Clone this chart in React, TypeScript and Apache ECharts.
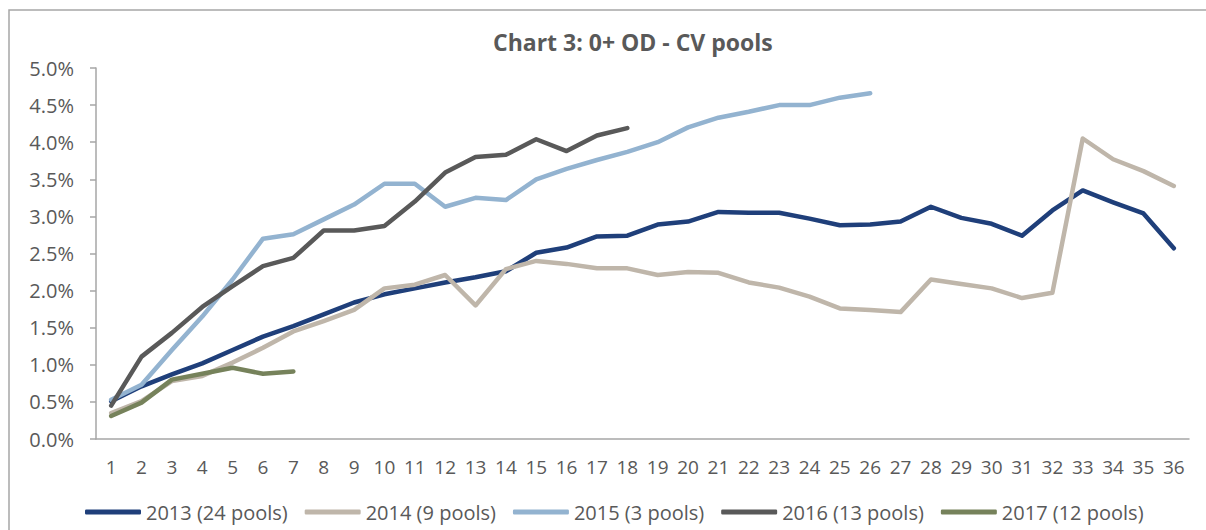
import React, { useEffect, useRef } from "react";
import * as echarts from "echarts";

const categories = Array.from({ length: 36 }, (_, i) => String(i + 1));

const s2013 = [0.51, 0.71, 0.87, 1.02, 1.2, 1.38, 1.52, 1.68, 1.84, 1.95, 2.03, 2.11, 2.18, 2.26, 2.51, 2.58, 2.73, 2.74, 2.89, 2.93, 3.06, 3.05, 3.05, 2.97, 2.88, 2.89, 2.93, 3.13, 2.98, 2.9, 2.74, 3.08, 3.35, 3.19, 3.04, 2.57];
const s2014 = [0.35, 0.51, 0.78, 0.85, 1.03, 1.23, 1.45, 1.59, 1.74, 2.03, 2.08, 2.21, 1.8, 2.29, 2.4, 2.36, 2.3, 2.3, 2.21, 2.25, 2.24, 2.11, 2.04, 1.92, 1.76, 1.74, 1.71, 2.15, 2.09, 2.03, 1.9, 1.97, 4.05, 3.77, 3.61, 3.41];
const s2015 = [0.53, 0.73, 1.2, 1.65, 2.15, 2.7, 2.76, 2.96, 3.16, 3.44, 3.44, 3.13, 3.25, 3.22, 3.5, 3.64, 3.76, 3.87, 4.0, 4.2, 4.33, 4.41, 4.5, 4.5, 4.6, 4.66];
const s2016 = [0.45, 1.11, 1.43, 1.78, 2.06, 2.33, 2.44, 2.81, 2.81, 2.87, 3.2, 3.59, 3.8, 3.83, 4.04, 3.88, 4.09, 4.19];
const s2017 = [0.31, 0.49, 0.8, 0.88, 0.96, 0.88, 0.91];

const seriesNames = ["2013 (24 pools)", "2014 (9 pools)", "2015 (3 pools)", "2016 (13 pools)", "2017 (12 pools)"];
const seriesData = [s2013, s2014, s2015, s2016, s2017];
const colors = ["#1f3f7a", "#bfb6aa", "#93b3d0", "#595959", "#76825b"];

const yTicks = [0, 0.5, 1, 1.5, 2, 2.5, 3, 3.5, 4, 4.5, 5];

export default function App() {
  const ref = useRef<HTMLDivElement>(null);
  useEffect(() => {
    if (!ref.current) return;
    const chart = echarts.init(ref.current, undefined, { renderer: "svg" });
    const font = "'Open Sans', 'Noto Sans', sans-serif";
    chart.setOption({
      animation: false,
      backgroundColor: "#ffffff",
      title: {
        text: "Chart 3: 0+ OD - CV pools",
        left: 488,
        top: 25,
        textStyle: { fontFamily: font, fontSize: 23, fontWeight: "bold", color: "#595959" },
      },
      graphic: [
        {
          type: "rect",
          shape: { x: 9, y: 10, width: 1400, height: 800 },
          style: { fill: "none", stroke: "#a6a6a6", lineWidth: 1.5 },
          silent: true,
        },
      ],
      grid: { left: 96, right: 17, top: 68, bottom: 91, containLabel: false },
      legend: {
        data: seriesNames,
        left: 80,
        top: 497,
        itemWidth: 56,
        itemHeight: 5,
        itemGap: 17,
        icon: "roundRect",
        textStyle: { fontFamily: font, fontSize: 20, color: "#595959" },
      },
      xAxis: {
        type: "category",
        data: categories,
        boundaryGap: true,
        axisLine: { lineStyle: { color: "#a6a6a6", width: 1.5 } },
        axisTick: { inside: true, length: 6, lineStyle: { color: "#a6a6a6", width: 1.5 } },
        axisLabel: { fontFamily: font, fontSize: 19, color: "#595959", margin: 18, interval: 0 },
      },
      yAxis: {
        type: "value",
        min: yTicks[0],
        max: yTicks[yTicks.length - 1],
        interval: 0.5,
        splitLine: { show: false },
        axisLine: { show: true, lineStyle: { color: "#a6a6a6", width: 1.5 } },
        axisTick: { show: true, length: 6, lineStyle: { color: "#a6a6a6", width: 1.5 } },
        axisLabel: {
          fontFamily: font,
          fontSize: 20,
          color: "#595959",
          margin: 22,
          formatter: (v: number) => v.toFixed(1) + "%",
        },
      },
      series: seriesData.map((d, i) => ({
        name: seriesNames[i],
        type: "line",
        data: d,
        symbol: "none",
        color: colors[i],
        lineStyle: { width: 4.5, color: colors[i], cap: "round", join: "round" },
      })),
    });
    return () => chart.dispose();
  }, []);
  return (
    <div
      ref={ref}
      style={{ position: "absolute", left: 0, top: 0, width: 1206, height: 530 }}
    />
  );
}
